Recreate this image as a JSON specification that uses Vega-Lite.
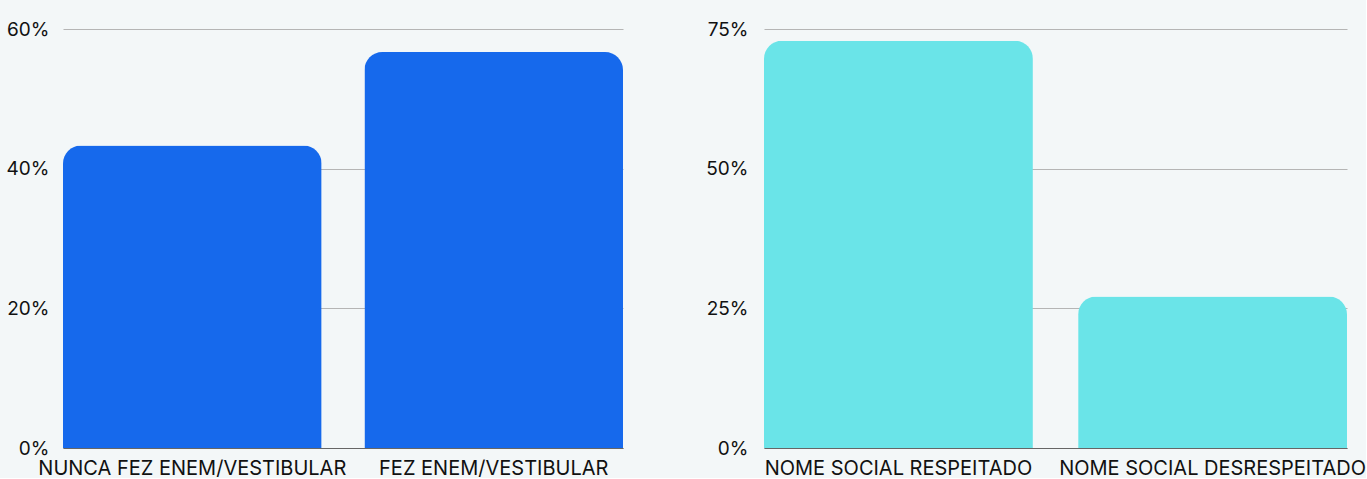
{
  "$schema": "https://vega.github.io/schema/vega-lite/v6.json",
  "background": "#f3f7f8",
  "padding": {"left": 6, "top": 20, "right": 0, "bottom": 0},
  "autosize": {"type": "pad"},
  "spacing": 82,
  "config": {
    "view": {"stroke": null},
    "font": "Inter",
    "axis": {"labelFont": "Inter", "labelColor": "#111111", "title": null},
    "axisX": {"labelAngle": 0, "labelFontSize": 20, "labelPadding": 10, "labelLimit": 0, "ticks": false, "domain": true, "domainColor": "#666666", "domainWidth": 1, "grid": false},
    "axisY": {"labelFontSize": 19, "labelPadding": 14, "ticks": false, "domain": false, "gridColor": "#b5b5b5", "gridWidth": 1, "minExtent": 50, "maxExtent": 50}
  },
  "hconcat": [
    {
      "width": 560,
      "height": 419,
      "data": {"values": [
        {"categoria": "NUNCA FEZ ENEM/VESTIBULAR", "valor": 0.433},
        {"categoria": "FEZ ENEM/VESTIBULAR", "valor": 0.567}
      ]},
      "mark": {"type": "bar", "color": "#1669ec", "cornerRadiusTopLeft": 18, "cornerRadiusTopRight": 18},
      "encoding": {
        "x": {"field": "categoria", "type": "nominal", "sort": null, "scale": {"paddingInner": 0.142, "paddingOuter": 0}},
        "y": {"field": "valor", "type": "quantitative", "scale": {"domain": [0, 0.6], "nice": false}, "axis": {"values": [0, 0.2, 0.4, 0.6], "format": ".0%"}}
      }
    },
    {
      "width": 583,
      "height": 419,
      "data": {"values": [
        {"categoria": "NOME SOCIAL RESPEITADO", "valor": 0.729},
        {"categoria": "NOME SOCIAL DESRESPEITADO", "valor": 0.271}
      ]},
      "mark": {"type": "bar", "color": "#6ae4e8", "cornerRadiusTopLeft": 18, "cornerRadiusTopRight": 18},
      "encoding": {
        "x": {"field": "categoria", "type": "nominal", "sort": null, "scale": {"paddingInner": 0.144, "paddingOuter": 0}},
        "y": {"field": "valor", "type": "quantitative", "scale": {"domain": [0, 0.75], "nice": false}, "axis": {"values": [0, 0.25, 0.5, 0.75], "format": ".0%", "labelPadding": 16}}
      }
    }
  ]
}
